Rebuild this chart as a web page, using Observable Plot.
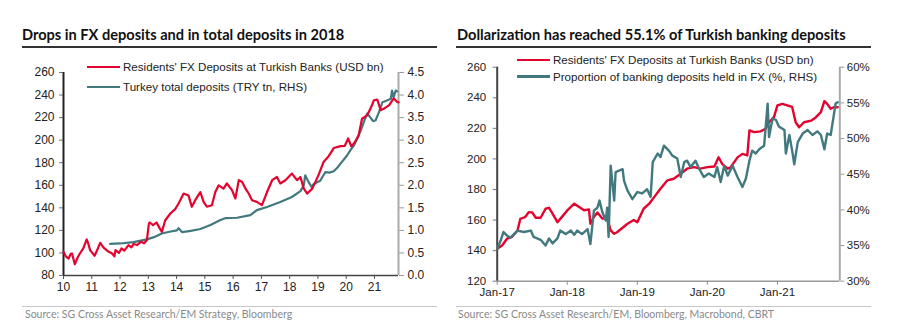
<!DOCTYPE html>
<html>
<head>
<meta charset="utf-8">
<script src="https://cdn.jsdelivr.net/npm/d3@7"></script>
<script src="https://cdn.jsdelivr.net/npm/@observablehq/plot@0.6"></script>
<style>
  html, body { margin: 0; padding: 0; background: #fff; }
  body { width: 900px; height: 333px; position: relative; overflow: hidden; font-family: "Liberation Sans", Arial, sans-serif; }
  .title { position: absolute; top: 26px; font-family: "Lato", "Open Sans", sans-serif; font-weight: 700; font-size: 14.6px; color: #111; white-space: nowrap; }
  .uline { position: absolute; top: 45.5px; height: 2px; background: #333; }
  .sline { position: absolute; top: 306px; height: 1px; background: #c8c8c8; }
  .source { position: absolute; top: 308px; font-family: "Lato", "Open Sans", sans-serif; font-size: 10.5px; color: #8a8a8a; white-space: nowrap; }
  .chart { position: absolute; top: 50px; }
  .legend { position: absolute; font-size: 11.6px; line-height: 14px; color: #222; white-space: nowrap; }
  .legend .row { position: absolute; left: 0; display: flex; align-items: center; }
  .legend .sw { display: inline-block; width: 33px; height: 2.4px; margin-right: 3px; }
</style>
</head>
<body>
<div class="title" style="left:22px">Drops in FX deposits and in total deposits in 2018</div>
<div class="uline" style="left:22px;width:415px"></div>
<div class="title" style="left:457px">Dollarization has reached 55.1% of Turkish banking deposits</div>
<div class="uline" style="left:456px;width:415px"></div>

<div id="left" class="chart" style="left:0px"></div>
<div id="right" class="chart" style="left:450px"></div>

<div class="legend" style="left:87px;top:60px">
  <div class="row" style="top:0"><span class="sw" style="background:#e4032e"></span>Residents' FX Deposits at Turkish Banks (USD bn)</div>
  <div class="row" style="top:20px"><span class="sw" style="background:#41797e"></span>Turkey total deposits (TRY tn, RHS)</div>
</div>
<div class="legend" style="left:517px;top:53px">
  <div class="row" style="top:0"><span class="sw" style="background:#e4032e"></span>Residents' FX Deposits at Turkish Banks (USD bn)</div>
  <div class="row" style="top:16.7px"><span class="sw" style="background:#41797e"></span>Proportion of banking deposits held in FX (%, RHS)</div>
</div>

<div class="sline" style="left:22px;width:415px"></div>
<div class="source" style="left:25px">Source: SG Cross Asset Research/EM Strategy, Bloomberg</div>
<div class="sline" style="left:456px;width:415px"></div>
<div class="source" style="left:458px">Source: SG Cross Asset Research/EM, Bloomberg, Macrobond, CBRT</div>

<script>
// ---------- Left chart data ----------
const fxYearsL = [2010.00,2010.08,2010.18,2010.25,2010.30,2010.40,2010.50,2010.58,2010.70,2010.82,2010.88,2010.94,2011.10,2011.20,2011.30,2011.38,2011.45,2011.60,2011.72,2011.80,2011.84,2011.96,2012.05,2012.15,2012.30,2012.40,2012.48,2012.60,2012.75,2012.85,2012.95,2013.02,2013.05,2013.17,2013.29,2013.40,2013.48,2013.60,2013.78,2013.95,2014.05,2014.13,2014.25,2014.42,2014.54,2014.66,2014.84,2014.96,2015.07,2015.25,2015.37,2015.49,2015.66,2015.78,2015.96,2016.08,2016.20,2016.32,2016.44,2016.55,2016.67,2016.84,2017.02,2017.20,2017.38,2017.55,2017.67,2017.85,2018.08,2018.26,2018.38,2018.50,2018.62,2018.80,2019.02,2019.20,2019.38,2019.56,2019.80,2019.95,2020.07,2020.18,2020.30,2020.44,2020.56,2020.74,2020.86,2020.98,2021.10,2021.22,2021.34,2021.52,2021.68,2021.80,2021.85];
const fxValuesL = [101,97,95,99,99.5,90,96,99.5,104,112,108,102.5,97.5,103,109,106,104,101,99.5,97,102.5,100,104,102,107,105,108,107,110,108.5,111.3,126,127,124.6,127,122,118.7,129,135,138.9,143,146.8,152.7,151,140.9,146.8,154,145,141,142.3,154,160,157,161.6,155.7,148.3,164.5,163,157,152.7,146.8,145.3,142.4,154,164.5,167.4,161.6,164.5,170.4,164.5,167.4,157,152.7,157,169,180.7,185.8,193,194.7,195,201.5,194.5,198,204.4,219,222,228,235.4,236,226.6,228,231,237,234,233.5];
const totYearsL = [2011.65,2012.00,2012.48,2012.95,2013.20,2013.48,2013.75,2014.01,2014.07,2014.20,2014.50,2014.84,2015.20,2015.55,2015.72,2016.14,2016.61,2016.84,2017.20,2017.67,2018.08,2018.38,2018.50,2018.55,2018.67,2018.78,2018.85,2019.08,2019.26,2019.40,2019.56,2019.70,2019.80,2020.03,2020.15,2020.27,2020.44,2020.56,2020.65,2020.74,2020.86,2020.95,2021.04,2021.16,2021.28,2021.40,2021.52,2021.58,2021.62,2021.68,2021.75,2021.80];
const totValuesL = [0.70,0.71,0.74,0.80,0.85,0.93,0.97,1.00,1.05,0.96,0.99,1.03,1.12,1.23,1.27,1.28,1.34,1.45,1.52,1.63,1.74,1.87,2.00,2.22,2.07,1.96,2.03,2.10,2.29,2.28,2.31,2.40,2.48,2.66,2.78,2.88,3.10,3.29,3.45,3.59,3.50,3.42,3.44,3.62,3.84,3.87,3.90,3.92,4.10,3.95,4.10,4.08];
const yTicksL = [80,100,120,140,160,180,200,220,240,260];
const rTicksL = [0.0,0.5,1.0,1.5,2.0,2.5,3.0,3.5,4.0,4.5];
const xTicksL = [2010,2011,2012,2013,2014,2015,2016,2017,2018,2019,2020,2021];

// ---------- Right chart data ----------
const fxYearsR = [2017.00,2017.07,2017.14,2017.21,2017.29,2017.33,2017.40,2017.45,2017.50,2017.55,2017.62,2017.69,2017.74,2017.78,2017.86,2017.93,2018.00,2018.10,2018.17,2018.24,2018.31,2018.33,2018.38,2018.43,2018.50,2018.57,2018.62,2018.67,2018.71,2018.79,2018.86,2018.95,2019.00,2019.09,2019.17,2019.24,2019.33,2019.43,2019.52,2019.62,2019.71,2019.81,2019.90,2020.00,2020.10,2020.16,2020.21,2020.29,2020.33,2020.43,2020.50,2020.57,2020.60,2020.67,2020.76,2020.83,2020.88,2020.95,2021.00,2021.07,2021.14,2021.21,2021.26,2021.31,2021.38,2021.48,2021.55,2021.62,2021.67,2021.71,2021.76,2021.81,2021.86];
const fxValuesR = [141.2,143.4,147.8,149,153.2,160.8,162,165.2,165,161.5,161.5,167.4,168,165,158.6,162.4,166.3,170.7,168.5,166.4,167,157.6,162,165,161,161,153.2,151,152,155,157.6,160,158.6,167.4,170.7,175,180.5,186,187,190.3,193.6,194.6,193.6,194.6,195,201.1,196.8,193.6,194.5,201,203.3,202.3,218.6,217.5,218,219.7,224,227.3,235,236,235,234,224,220.7,224,225,227.3,230.6,237.8,236,232.8,234,233.8];
const shareYearsR = [2017.00,2017.05,2017.09,2017.14,2017.19,2017.29,2017.38,2017.48,2017.52,2017.62,2017.69,2017.74,2017.79,2017.86,2017.90,2017.98,2018.05,2018.10,2018.14,2018.21,2018.29,2018.33,2018.38,2018.43,2018.46,2018.50,2018.55,2018.57,2018.59,2018.62,2018.67,2018.69,2018.74,2018.79,2018.81,2018.86,2018.93,2019.00,2019.07,2019.14,2019.19,2019.22,2019.29,2019.33,2019.38,2019.45,2019.50,2019.57,2019.62,2019.67,2019.71,2019.76,2019.83,2019.88,2019.95,2020.02,2020.10,2020.14,2020.19,2020.24,2020.29,2020.36,2020.43,2020.50,2020.55,2020.60,2020.64,2020.69,2020.74,2020.81,2020.86,2020.88,2020.93,2020.98,2021.02,2021.10,2021.12,2021.17,2021.21,2021.24,2021.29,2021.36,2021.43,2021.50,2021.57,2021.62,2021.67,2021.71,2021.76,2021.80,2021.83,2021.86];
const shareValuesR = [34.5,35.7,36.9,36.4,36.1,37.1,36.9,37.1,36.2,35.8,35.0,36.0,35.3,36.0,37.1,36.6,37.1,36.5,37.1,36.6,37.3,35.2,39.9,40.3,41.3,39.7,38.5,40.3,36.2,46.2,41.3,45.3,45.5,45.7,44.1,42.7,41.5,42.5,42.3,42.9,41.8,46.7,47.9,47.4,49.0,48.3,47.6,47.2,44.6,46.7,46.9,46.0,46.9,45.8,44.6,45.1,44.6,46.0,43.9,46.2,44.8,46.2,44.6,43.2,44.4,46.9,48.3,47.9,48.5,49.0,54.9,50.2,52.8,52.6,51.7,51.2,47.9,50.5,48.3,46.4,49.5,50.7,51.2,50.5,51.0,50.5,48.5,50.7,50.5,53.0,54.9,55.1];
const yTicksR = [120,140,160,180,200,220,240,260];
const rTicksR = [30,35,40,45,50,55,60];
const xTicksR = [2017,2018,2019,2020,2021];

const RED = "#e4032e", TEAL = "#41797e";

// map RHS values onto LHS scale (dual-axis)
const toLeftL = r => 80 + r * 40;                 // 0..4.5 -> 80..260
const toLeftR = p => 120 + (p - 30) * 140 / 30;   // 30..60 -> 120..260

const fxL = fxYearsL.map((x, i) => ({x, y: fxValuesL[i]}));
const totL = totYearsL.map((x, i) => ({x, y: toLeftL(totValuesL[i])}));
const fxR = fxYearsR.map((x, i) => ({x, y: fxValuesR[i]}));
const shR = shareYearsR.map((x, i) => ({x, y: toLeftR(shareValuesR[i])}));

const xMaxL = 2021.85, xMaxR = 2021.89;

const left = Plot.plot({
  width: 450, height: 250,
  marginLeft: 63, marginRight: 52, marginTop: 22, marginBottom: 25,
  style: {fontFamily: "'Liberation Sans', Arial, sans-serif", fontSize: "12px", color: "#222", background: "transparent"},
  x: {domain: [2010, xMaxL]},
  y: {domain: [80, 260]},
  marks: [
    Plot.axisY({ticks: yTicksL, tickSize: 4, tickPadding: 5, stroke: "#777", label: null}),
    Plot.axisY({anchor: "right", ticks: rTicksL.map(toLeftL), tickFormat: v => ((v - 80) / 40).toFixed(1), tickSize: 5, tickPadding: 4, stroke: "#999", label: null}),
    Plot.axisX({ticks: xTicksL, tickFormat: d => String(d % 100), tickSize: 4, tickPadding: 3, stroke: "#555", label: null}),
    Plot.ruleY([80], {stroke: "#444", strokeWidth: 1.5}),
    Plot.ruleX([xMaxL], {stroke: "#aaa", strokeWidth: 2}),
    Plot.ruleX([2010], {stroke: "#222", strokeWidth: 2}),
    Plot.line(totL, {x: "x", y: "y", stroke: TEAL, strokeWidth: 2.2}),
    Plot.line(fxL, {x: "x", y: "y", stroke: RED, strokeWidth: 2.2})
  ]
});
document.getElementById("left").append(left);

const right = Plot.plot({
  width: 450, height: 250,
  marginLeft: 46.7, marginRight: 60.7, marginTop: 16.7, marginBottom: 19.3,
  style: {fontFamily: "'Liberation Sans', Arial, sans-serif", fontSize: "11.5px", color: "#222", background: "transparent"},
  x: {domain: [2017, xMaxR]},
  y: {domain: [120, 260]},
  marks: [
    Plot.axisY({ticks: yTicksR, tickSize: 4, tickPadding: 7, stroke: "#777", label: null}),
    Plot.axisY({anchor: "right", ticks: rTicksR.map(toLeftR), tickFormat: v => Math.round(30 + (v - 120) * 30 / 140) + "%", tickSize: 4, tickPadding: 3, stroke: "#999", label: null}),
    Plot.axisX({ticks: xTicksR, tickFormat: d => "Jan-" + String(d % 100), tickSize: 4, tickPadding: 3, stroke: "#888", label: null}),
    Plot.ruleY([120], {stroke: "#999", strokeWidth: 1.5}),
    Plot.ruleX([xMaxR], {stroke: "#aaa", strokeWidth: 2}),
    Plot.ruleX([2017], {stroke: "#444", strokeWidth: 2}),
    Plot.line(fxR, {x: "x", y: "y", stroke: RED, strokeWidth: 2.4}),
    Plot.line(shR, {x: "x", y: "y", stroke: TEAL, strokeWidth: 2.4})
  ]
});
document.getElementById("right").append(right);
</script>
</body>
</html>
